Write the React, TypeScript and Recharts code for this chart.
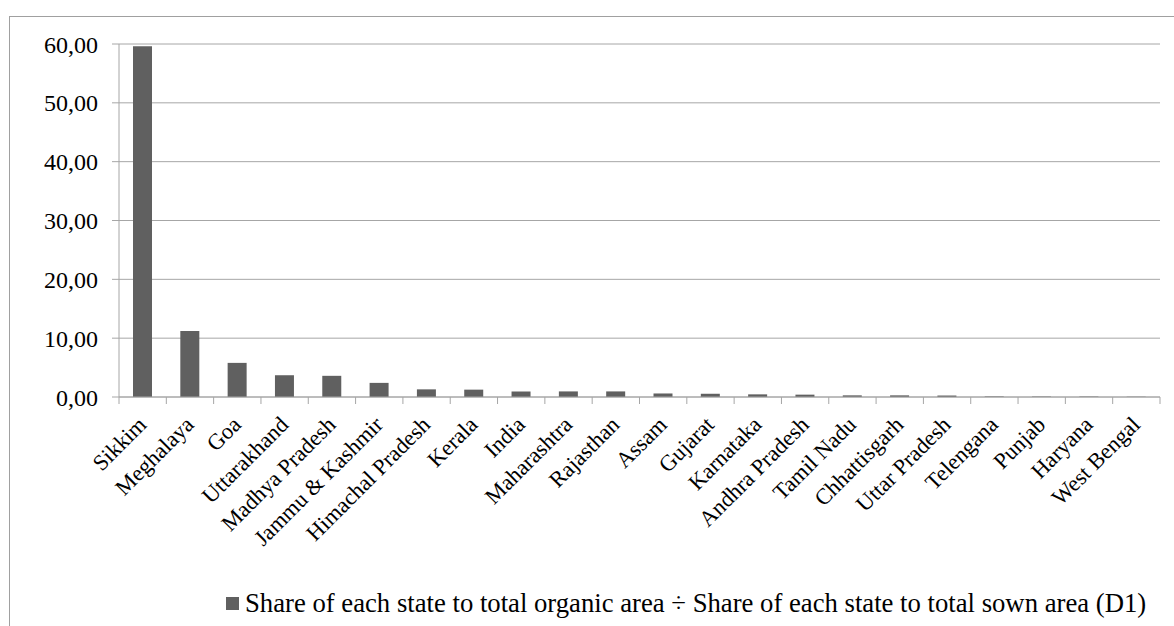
import React from "react"
import { BarChart, Bar, XAxis, YAxis, CartesianGrid } from "recharts"

// States ordered as in the source chart
const states = [
  "Sikkim",
  "Meghalaya",
  "Goa",
  "Uttarakhand",
  "Madhya Pradesh",
  "Jammu & Kashmir",
  "Himachal Pradesh",
  "Kerala",
  "India",
  "Maharashtra",
  "Rajasthan",
  "Assam",
  "Gujarat",
  "Karnataka",
  "Andhra Pradesh",
  "Tamil Nadu",
  "Chhattisgarh",
  "Uttar Pradesh",
  "Telengana",
  "Punjab",
  "Haryana",
  "West Bengal",
]

// D1 = organic share / sown share
const d1Values = [
  59.6, 11.2, 5.8, 3.7, 3.6, 2.4, 1.3, 1.25, 0.95, 0.95, 0.95, 0.6, 0.55, 0.45, 0.4, 0.28, 0.28, 0.25,
  0.1, 0.08, 0.08, 0.05,
]

const yTicks = [0, 10, 20, 30, 40, 50, 60]

const seriesName = "Share of each state to total organic area ÷ Share of each state to total sown area (D1)"

const data = states.map((state, i) => ({ state, d1: d1Values[i] }))

const FONT = '"Liberation Serif", "Times New Roman", serif'
const AXIS_GREY = "#a6a6a6"
const BAR_GREY = "#606060"
const BAND = (1160 - 119) / states.length

function StateTick(props: any) {
  const { x, y, payload, index } = props
  const left = x - BAND / 2
  return (
    <g>
      <line x1={left} y1={y} x2={left} y2={y + 7} stroke={AXIS_GREY} />
      {index === states.length - 1 && (
        <line x1={x + BAND / 2} y1={y} x2={x + BAND / 2} y2={y + 7} stroke={AXIS_GREY} />
      )}
      <text
        x={x + 5}
        y={y + 29}
        transform={`rotate(-45, ${x + 5}, ${y + 29})`}
        textAnchor="end"
        fontFamily={FONT}
        fontSize={22.5}
        fill="#000"
      >
        {payload.value}
      </text>
    </g>
  )
}

export default function App() {
  return (
    <div
      style={{
        position: "absolute",
        left: 0,
        top: 0,
        width: 1174,
        height: 626,
        overflow: "hidden",
        background: "#fff",
      }}
    >
      {/* chart frame, right and bottom edges fall outside the picture */}
      <div
        style={{
          position: "absolute",
          left: 9,
          top: 16,
          width: 1200,
          height: 700,
          border: "1px solid #a0a0a0",
        }}
      />
      <div style={{ position: "absolute", left: 0, top: 0 }}>
        <BarChart
          width={1174}
          height={626}
          data={data}
          margin={{ top: 44, right: 14, bottom: 0, left: 0 }}
          barSize={19}
        >
          <CartesianGrid vertical={false} stroke={AXIS_GREY} />
          <XAxis
            dataKey="state"
            interval={0}
            height={229}
            tickLine={false}
            tickSize={0}
            tickMargin={0}
            axisLine={{ stroke: AXIS_GREY }}
            tick={<StateTick />}
          />
          <YAxis
            width={119}
            domain={[0, 60]}
            ticks={yTicks}
            tickSize={7}
            tickMargin={14}
            axisLine={{ stroke: AXIS_GREY }}
            tickLine={{ stroke: AXIS_GREY }}
            tickFormatter={(v: number) => v.toFixed(2).replace(".", ",")}
            tick={{ fill: "#000", fontFamily: FONT, fontSize: 24 }}
          />
          <Bar dataKey="d1" name={seriesName} fill={BAR_GREY} isAnimationActive={false} />
        </BarChart>
      </div>
      {/* legend */}
      <div
        style={{
          position: "absolute",
          left: 226,
          top: 588,
          display: "flex",
          alignItems: "center",
          fontFamily: FONT,
          fontSize: 26.7,
          color: "#000",
          whiteSpace: "nowrap",
        }}
      >
        <span style={{ display: "inline-block", width: 13, height: 13, background: BAR_GREY, marginRight: 6 }} />
        <span>{seriesName}</span>
      </div>
    </div>
  )
}
